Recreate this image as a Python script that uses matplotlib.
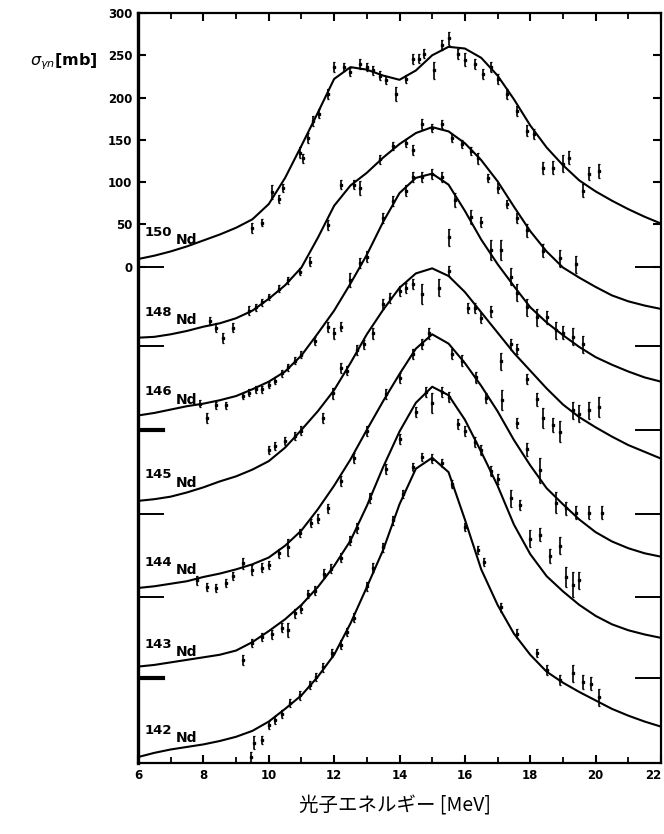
import matplotlib
matplotlib.use("Agg")
import matplotlib.pyplot as plt

# ---------------- data ----------------
energy = [6.0, 6.5, 7.0, 7.5, 8.0, 8.5, 9.0, 9.5, 10.0, 10.5, 11.0, 11.5, 12.0, 12.5, 13.0, 13.5,
          14.0, 14.5, 15.0, 15.5, 16.0, 16.5, 17.0, 17.5, 18.0, 18.5, 19.0, 19.5, 20.0, 20.5,
          21.0, 21.5, 22.0]

isotopes = ["150", "148", "146", "145", "144", "143", "142"]
offsets = [0, 94, 193, 292, 391, 487, 587]   # vertical shift of each curve (mb)

fit_150 = [9, 13, 18, 24, 31, 38, 46, 56, 74, 105, 143, 182, 222, 236, 233, 226, 221, 232, 250, 260,
           258, 247, 226, 198, 167, 141, 120, 102, 89, 78, 68, 59, 51]
fit_148 = [10, 11, 14, 18, 23, 27, 33, 42, 56, 72, 93, 128, 166, 190, 205, 223, 239, 252, 259, 254,
           240, 220, 195, 165, 136, 112, 93, 81, 70, 60, 53, 48, 44]
fit_146 = [17, 20, 24, 28, 31, 35, 40, 48, 57, 69, 88, 114, 141, 173, 207, 246, 280, 298, 303, 290,
           259, 225, 196, 170, 145, 127, 112, 98, 86, 77, 69, 62, 57]
fit_145 = [15, 17, 20, 25, 31, 38, 44, 52, 62, 78, 99, 121, 146, 178, 212, 241, 267, 284, 290, 281,
           262, 238, 214, 190, 169, 148, 129, 114, 102, 91, 81, 73, 65]
fit_144 = [11, 13, 16, 19, 24, 28, 33, 39, 47, 61, 79, 104, 132, 163, 198, 232, 264, 294, 311, 300,
           277, 250, 220, 186, 156, 129, 110, 92, 77, 66, 58, 52, 48]
fit_143 = [14, 16, 19, 22, 25, 28, 33, 43, 56, 70, 87, 108, 133, 163, 204, 250, 292, 326, 345, 335,
           306, 268, 228, 182, 147, 121, 103, 87, 74, 64, 57, 52, 48]
fit_142 = [7, 12, 16, 19, 22, 26, 31, 38, 49, 64, 80, 102, 128, 165, 208, 252, 306, 348, 361, 344,
           288, 229, 187, 153, 128, 108, 95, 84, 74, 64, 56, 49, 43]

# measured points: energy (MeV), cross section (mb), error (mb)
pts_150_E = [9.5, 9.8, 10.1, 10.3, 10.45, 10.95, 11.05, 11.2, 11.35, 11.55, 11.8, 12.0, 12.3, 12.5,
             12.8, 13.0, 13.2, 13.4, 13.6, 13.9, 14.2, 14.4, 14.6, 14.75, 15.05, 15.3, 15.5, 15.8,
             16.0, 16.3, 16.55, 16.8, 17.0, 17.3, 17.6, 17.9, 18.1, 18.4, 18.7, 19.0, 19.2, 19.6,
             19.8, 20.1]
pts_150_s = [46, 52, 88, 80, 93, 135, 128, 152, 172, 181, 204, 236, 236, 230, 240, 236, 232, 226,
             221, 204, 222, 246, 246, 252, 232, 262, 270, 252, 245, 240, 228, 236, 222, 204, 184,
             161, 157, 117, 117, 122, 129, 90, 110, 113]
pts_150_e = [6, 4, 8, 5, 5, 6, 5, 6, 6, 5, 6, 6, 5, 5, 6, 5, 5, 5, 5, 8, 5, 6, 5, 5, 10, 6, 8, 6,
             8, 6, 6, 6, 6, 6, 6, 6, 6, 7, 8, 10, 8, 8, 8, 8]

pts_148_E = [8.2, 8.4, 8.6, 8.9, 9.4, 9.6, 9.8, 10.0, 10.3, 10.6, 10.95, 11.25, 11.8, 12.2, 12.6,
             12.8, 13.4, 13.8, 14.2, 14.4, 14.7, 15.0, 15.3, 15.6, 15.9, 16.2, 16.4, 16.7, 17.0,
             17.3, 17.6, 17.9, 18.4, 18.9, 19.4]
pts_148_s = [30, 22, 10, 22, 42, 46, 52, 58, 68, 78, 88, 100, 143, 191, 191, 187, 221, 237, 240,
             232, 263, 258, 263, 246, 239, 231, 222, 199, 187, 168, 152, 137, 113, 104, 97]
pts_148_e = [5, 5, 6, 5, 5, 4, 4, 4, 4, 4, 4, 5, 6, 5, 5, 8, 5, 5, 5, 6, 6, 5, 5, 5, 5, 5, 6, 5,
             6, 5, 6, 8, 8, 10, 10]

pts_146_E = [7.9, 8.1, 8.4, 8.7, 9.2, 9.4, 9.6, 9.8, 10.0, 10.2, 10.4, 10.6, 10.8, 11.0, 11.4,
             11.8, 12.0, 12.2, 12.5, 12.8, 13.0, 13.5, 13.8, 14.2, 14.4, 14.7, 15.0, 15.3, 15.5,
             15.7, 16.2, 16.5, 16.8, 17.1, 17.4, 17.6, 17.9, 18.2, 18.5, 18.8, 19.0, 19.3, 19.6]
pts_146_s = [31, 14, 29, 29, 40, 44, 48, 48, 53, 58, 67, 74, 82, 89, 105, 122, 114, 122, 177,
             197, 205, 251, 271, 283, 299, 299, 303, 299, 228, 272, 252, 246, 213, 213, 181, 162,
             145, 133, 133, 118, 115, 110, 101]
pts_146_e = [4, 6, 4, 4, 4, 4, 4, 4, 4, 4, 4, 4, 4, 4, 5, 6, 6, 5, 8, 6, 6, 6, 6, 6, 6, 6, 6, 6,
             10, 8, 8, 6, 12, 12, 10, 10, 10, 10, 8, 10, 8, 10, 10]

pts_145_E = [10.0, 10.2, 10.5, 10.8, 11.0, 11.66, 11.97, 12.2, 12.4, 12.7, 12.9, 13.2, 13.5, 13.7,
             14.0, 14.2, 14.4, 14.7, 15.2, 15.5, 16.1, 16.3, 16.5, 16.8, 17.1, 17.4, 17.6, 17.9,
             18.2, 18.4, 18.7, 18.9, 19.3, 19.5, 19.8, 20.1]
pts_145_s = [75, 80, 86, 92, 98, 113, 142, 172, 169, 193, 200, 213, 248, 255, 263, 267, 272, 260,
             267, 287, 243, 243, 231, 239, 180, 200, 195, 159, 135, 113, 105, 97, 122, 118, 122,
             126]
pts_145_e = [5, 5, 5, 5, 5, 6, 6, 6, 5, 6, 5, 6, 6, 6, 6, 6, 6, 12, 10, 6, 6, 6, 6, 6, 10, 6, 6,
             6, 8, 12, 8, 12, 10, 10, 10, 12]

pts_144_E = [7.8, 8.1, 8.4, 8.7, 8.9, 9.2, 9.5, 9.8, 10.0, 10.3, 10.6, 10.95, 11.3, 11.5, 11.8,
             12.2, 12.6, 13.0, 13.6, 14.0, 14.4, 14.7, 14.9, 15.6, 15.9, 16.35, 16.65, 17.15, 17.6,
             17.9, 18.3, 18.8, 19.1, 19.4, 19.8, 20.2]
pts_144_s = [20, 12, 11, 17, 25, 40, 32, 35, 38, 52, 59, 76, 88, 93, 105, 138, 165, 197, 240, 259,
             288, 300, 312, 288, 280, 260, 236, 233, 206, 175, 150, 112, 105, 100, 100, 100]
pts_144_e = [5, 5, 5, 5, 5, 6, 6, 5, 5, 5, 10, 5, 5, 5, 5, 6, 6, 6, 6, 6, 6, 6, 6, 6, 6, 6, 6, 12,
             6, 8, 15, 12, 8, 8, 8, 8]

pts_143_E = [9.2, 9.5, 9.8, 10.1, 10.4, 10.6, 10.8, 11.0, 11.2, 11.4, 11.7, 11.9, 12.2, 12.5, 12.7,
             13.1, 13.6, 14.0, 14.5, 14.8, 15.0, 15.3, 15.5, 15.8, 16.0, 16.3, 16.5, 16.8, 17.0,
             17.4, 17.7, 18.0, 18.3, 18.6, 18.9, 19.1, 19.3, 19.5]
pts_143_s = [22, 42, 49, 52, 60, 57, 77, 82, 100, 104, 124, 130, 143, 163, 178, 213, 248, 283,
             315, 339, 326, 339, 333, 301, 293, 280, 270, 245, 236, 213, 205, 165, 170, 145, 157,
             120, 111, 116]
pts_143_e = [6, 5, 5, 5, 5, 8, 5, 5, 5, 5, 5, 5, 5, 5, 6, 6, 6, 6, 6, 6, 12, 6, 6, 6, 6, 6, 6, 6,
             6, 10, 6, 10, 8, 8, 10, 12, 15, 10]

pts_142_E = [9.45, 9.55, 9.8, 10.0, 10.2, 10.4, 10.65, 10.95, 11.25, 11.45, 11.65, 11.95, 12.2,
             12.4, 12.6, 13.0, 13.2, 13.5, 13.8, 14.1, 14.4, 14.7, 15.0, 15.3, 15.6, 16.0, 16.4,
             16.6, 17.1, 17.6, 18.2, 18.5, 18.9, 19.3, 19.6, 19.85, 20.1]
pts_142_s = [7, 24, 27, 45, 51, 58, 71, 80, 92, 102, 113, 130, 140, 155, 172, 209, 231, 255, 287,
             318, 350, 362, 360, 355, 330, 279, 252, 238, 184, 153, 130, 110, 98, 106, 96, 94, 78]
pts_142_e = [6, 8, 5, 5, 5, 5, 5, 5, 5, 5, 5, 5, 5, 5, 5, 5, 5, 5, 5, 5, 5, 5, 5, 5, 5, 5, 5, 5,
             5, 5, 5, 6, 6, 10, 8, 8, 10]

y_ticks = [0, 50, 100, 150, 200, 250, 300]
x_ticks = [6, 8, 10, 12, 14, 16, 18, 20, 22]

fits = [fit_150, fit_148, fit_146, fit_145, fit_144, fit_143, fit_142]
points = [(pts_150_E, pts_150_s, pts_150_e), (pts_148_E, pts_148_s, pts_148_e),
          (pts_146_E, pts_146_s, pts_146_e), (pts_145_E, pts_145_s, pts_145_e),
          (pts_144_E, pts_144_s, pts_144_e), (pts_143_E, pts_143_s, pts_143_e),
          (pts_142_E, pts_142_s, pts_142_e)]

# ---------------- figure ----------------
W, H = 664, 834
fig = plt.figure(figsize=(W / 100, H / 100), dpi=100)
ax = fig.add_axes([138 / W, 1 - 763 / H, (661 - 138) / W, (763 - 13) / H])

ax.set_xlim(6, 22)
ax.set_ylim(-587, 299)

nd_center = [240, 320, 400, 483, 570, 652, 738]   # pixel centre of the "Nd" label
for iso, off, fit, (pe, ps, perr), cy in zip(isotopes, offsets, fits, points, nd_center):
    ax.plot(energy, [v - off for v in fit], color="black", lw=1.5, solid_joinstyle="round")
    ax.errorbar(pe, [v - off for v in ps], yerr=perr, fmt="s", ms=1.6, color="black",
                ecolor="black", elinewidth=1.2, capsize=1.0, capthick=0.9)
    # baseline marks on left and right edge
    ax.plot([6, 6.75], [-off, -off], color="black", lw=1.4 if off not in (193, 487) else 3.0)
    ax.plot([21.25, 22], [-off, -off], color="black", lw=1.4)
    fig.text(145 / W, 1 - (cy - 8) / H, iso, fontsize=9.5, fontweight="bold",
             ha="left", va="center")
    fig.text(176 / W, 1 - cy / H, "Nd", fontsize=10, fontweight="bold",
             ha="left", va="center")

ax.set_yticks(y_ticks)
ax.set_yticklabels([str(t) for t in y_ticks])
ax.set_xticks(x_ticks)
ax.set_xticklabels([str(t) for t in x_ticks])
ax.set_xticks(list(range(7, 22, 2)), minor=True)
ax.tick_params(axis="both", which="major", direction="in", length=6, width=1.5,
               labelsize=8.5, top=True, right=True, pad=4)
ax.tick_params(axis="x", which="minor", direction="in", length=4, width=1.3, top=True)
for lab in ax.get_xticklabels() + ax.get_yticklabels():
    lab.set_fontweight("bold")
ax.get_xticklabels()[-1].set_horizontalalignment("right")

for side in ["top", "bottom", "right"]:
    ax.spines[side].set_linewidth(1.6)
ax.spines["left"].set_linewidth(2.4)

fig.text(30 / W, 1 - 62 / H, r"$\sigma_{\gamma n}$[mb]", fontsize=11.5, fontweight="bold",
         ha="left", va="center")
fig.text(395 / W, 1 - 806 / H, "光子エネルギー [MeV]", fontsize=14,
         family=["Noto Sans CJK JP", "DejaVu Sans"], ha="center", va="center")

fig.savefig("out.png", dpi=100)
